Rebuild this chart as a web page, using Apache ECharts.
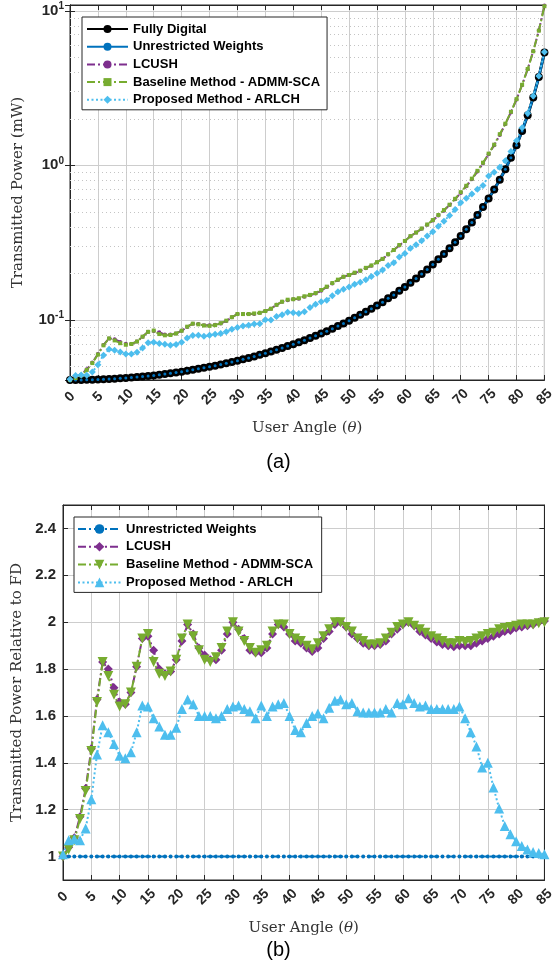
<!DOCTYPE html>
<html><head><meta charset="utf-8">
<script src="https://cdn.jsdelivr.net/npm/echarts@6/dist/echarts.min.js"></script>
<style>html,body{margin:0;padding:0;background:#fff}#c{width:557px;height:977px}</style>
</head><body><div id="c"></div><script>
const angles = [0,1,2,3,4,5,6,7,8,9,10,11,12,13,14,15,16,17,18,19,20,21,22,23,24,25,26,27,28,29,30,31,32,33,34,35,36,37,38,39,40,41,42,43,44,45,46,47,48,49,50,51,52,53,54,55,56,57,58,59,60,61,62,63,64,65,66,67,68,69,70,71,72,73,74,75,76,77,78,79,80,81,82,83,84,85];

// (a) transmitted power (mW)
const fdPower = [0.0408,0.0408,0.0408,0.0409,0.0410,0.0411,0.0412,0.0414,0.0416,0.0418,
0.0421,0.0423,0.0426,0.0430,0.0433,0.0437,0.0442,0.0446,0.0451,0.0456,
0.0462,0.0468,0.0475,0.0482,0.0489,0.0497,0.0505,0.0514,0.0523,0.0533,
0.0544,0.0555,0.0567,0.0580,0.0594,0.0608,0.0623,0.0640,0.0657,0.0676,
0.0695,0.0716,0.0739,0.0763,0.0789,0.0816,0.0845,0.0877,0.0911,0.0948,
0.0987,0.103,0.108,0.113,0.118,0.124,0.130,0.138,0.145,0.154,
0.163,0.174,0.185,0.198,0.212,0.228,0.247,0.267,0.291,0.318,
0.349,0.385,0.427,0.477,0.537,0.609,0.697,0.806,0.944,1.12,
1.35,1.67,2.11,2.75,3.73,5.37];
const uwPower = [0.0408,0.0408,0.0408,0.0409,0.0410,0.0411,0.0412,0.0414,0.0416,0.0418,
0.0421,0.0423,0.0426,0.0430,0.0433,0.0437,0.0442,0.0446,0.0451,0.0456,
0.0462,0.0468,0.0475,0.0482,0.0489,0.0497,0.0505,0.0514,0.0523,0.0533,
0.0544,0.0555,0.0567,0.0580,0.0594,0.0608,0.0623,0.0640,0.0657,0.0676,
0.0695,0.0716,0.0739,0.0763,0.0789,0.0816,0.0845,0.0877,0.0911,0.0948,
0.0987,0.103,0.108,0.113,0.118,0.124,0.130,0.138,0.145,0.154,
0.163,0.174,0.185,0.198,0.212,0.228,0.247,0.267,0.291,0.318,
0.349,0.385,0.427,0.477,0.537,0.609,0.697,0.806,0.944,1.12,
1.35,1.67,2.11,2.75,3.73,5.37];
const lcushPower = [0.0408,0.0424,0.0441,0.0479,0.0529,0.0600,0.0688,0.0758,0.0749,0.0719,
0.0699,0.0698,0.0724,0.0778,0.0836,0.0848,0.0831,0.0803,0.0803,0.0816,
0.0850,0.0899,0.0945,0.0940,0.0924,0.0924,0.0929,0.0946,0.0983,0.104,
0.109,0.109,0.109,0.109,0.111,0.114,0.118,0.125,0.131,0.134,
0.136,0.137,0.141,0.144,0.148,0.154,0.163,0.172,0.181,0.190,
0.195,0.201,0.208,0.216,0.224,0.236,0.248,0.265,0.283,0.303,
0.324,0.348,0.367,0.388,0.412,0.440,0.473,0.509,0.553,0.603,
0.663,0.732,0.811,0.911,1.03,1.18,1.35,1.57,1.85,2.20,
2.67,3.31,4.19,5.47,7.46,10.8];
const admmPower = [0.0408,0.0420,0.0437,0.0474,0.0525,0.0596,0.0684,0.0758,0.0736,0.0706,
0.0690,0.0698,0.0724,0.0778,0.0836,0.0852,0.0809,0.0794,0.0798,0.0816,
0.0850,0.0903,0.0945,0.0935,0.0919,0.0914,0.0924,0.0951,0.0988,0.104,
0.109,0.109,0.109,0.110,0.111,0.114,0.118,0.125,0.131,0.135,
0.136,0.138,0.142,0.145,0.149,0.156,0.164,0.173,0.182,0.190,
0.195,0.202,0.208,0.217,0.225,0.236,0.248,0.266,0.283,0.305,
0.324,0.348,0.367,0.390,0.414,0.442,0.477,0.513,0.556,0.607,
0.670,0.737,0.820,0.921,1.04,1.19,1.36,1.59,1.86,2.22,
2.68,3.32,4.20,5.47,7.44,10.7];
const arlchPower = [0.0412,0.0437,0.0439,0.0438,0.0459,0.0512,0.0591,0.0646,0.0636,0.0619,
0.0602,0.0601,0.0616,0.0658,0.0712,0.0717,0.0703,0.0694,0.0686,0.0693,
0.0716,0.0763,0.0793,0.0795,0.0782,0.0795,0.0808,0.0817,0.0837,0.0869,
0.0892,0.0913,0.0924,0.0940,0.0944,0.100,0.0997,0.105,0.108,0.112,
0.111,0.110,0.113,0.120,0.126,0.131,0.134,0.143,0.152,0.158,
0.163,0.170,0.175,0.182,0.191,0.200,0.210,0.225,0.234,0.255,
0.269,0.291,0.306,0.325,0.349,0.372,0.403,0.435,0.474,0.518,
0.572,0.612,0.653,0.701,0.741,0.853,0.903,0.971,1.07,1.23,
1.44,1.75,2.17,2.81,3.79,5.42];

// (b) transmitted power relative to FD
const uwRatio = [1,1,1,1,1,1,1,1,1,1,1,1,1,1,1,1,1,1,1,1,1,1,1,1,1,1,1,1,1,1,1,1,1,1,1,1,1,1,1,1,1,1,1,1,1,1,1,1,1,1,1,1,1,1,1,1,1,1,1,1,1,1,1,1,1,1,1,1,1,1,1,1,1,1,1,1,1,1,1,1,1,1,1,1,1,1];
const lcushRatio = [1.00,1.04,1.08,1.17,1.29,1.46,1.67,1.83,1.80,1.72,
1.66,1.65,1.70,1.81,1.93,1.94,1.88,1.80,1.78,1.79,
1.84,1.92,1.99,1.95,1.89,1.86,1.84,1.84,1.88,1.95,
2.00,1.97,1.93,1.88,1.87,1.87,1.89,1.95,1.99,1.98,
1.95,1.92,1.91,1.89,1.875,1.89,1.93,1.96,1.99,2.00,
1.98,1.95,1.93,1.91,1.90,1.90,1.905,1.92,1.95,1.97,
1.99,2.00,1.985,1.96,1.945,1.93,1.915,1.905,1.90,1.895,
1.90,1.90,1.90,1.91,1.92,1.93,1.94,1.95,1.96,1.965,
1.975,1.98,1.985,1.99,2.00,2.005];
const admmRatio = [1.00,1.03,1.07,1.16,1.28,1.45,1.66,1.83,1.77,1.69,
1.64,1.65,1.70,1.81,1.93,1.95,1.83,1.78,1.77,1.79,
1.84,1.93,1.99,1.94,1.88,1.84,1.83,1.85,1.89,1.96,
2.00,1.96,1.92,1.89,1.87,1.88,1.90,1.96,1.99,1.99,
1.95,1.93,1.92,1.90,1.885,1.91,1.94,1.97,2.00,2.00,
1.98,1.96,1.93,1.92,1.905,1.905,1.91,1.93,1.955,1.98,
1.99,2.00,1.985,1.97,1.955,1.94,1.93,1.92,1.91,1.91,
1.92,1.915,1.92,1.93,1.94,1.95,1.955,1.97,1.975,1.98,
1.985,1.99,1.99,1.99,1.995,2.00];
const arlchRatio = [1.01,1.07,1.075,1.07,1.12,1.245,1.435,1.56,1.53,1.48,
1.43,1.42,1.445,1.53,1.645,1.64,1.59,1.555,1.52,1.52,
1.55,1.63,1.67,1.65,1.60,1.60,1.60,1.59,1.60,1.63,
1.64,1.645,1.63,1.62,1.59,1.645,1.60,1.64,1.65,1.655,
1.60,1.54,1.53,1.57,1.60,1.61,1.59,1.635,1.665,1.67,
1.65,1.655,1.62,1.615,1.615,1.615,1.615,1.63,1.615,1.655,
1.65,1.675,1.655,1.64,1.645,1.63,1.63,1.63,1.63,1.63,
1.64,1.59,1.53,1.47,1.38,1.40,1.295,1.205,1.13,1.095,
1.065,1.045,1.03,1.02,1.015,1.01];

const topNames = ['Fully Digital','Unrestricted Weights','LCUSH','Baseline Method - ADMM-SCA','Proposed Method - ARLCH'];
const botNames = ['Unrestricted Weights ','LCUSH ','Baseline Method - ADMM-SCA ','Proposed Method - ARLCH '];
const minorGridTop = [0.05,0.06,0.07,0.08,0.09,0.2,0.3,0.4,0.5,0.6,0.7,0.8,0.9,2,3,4,5,6,7,8,9];

const C = {blue:'#0072BD', purple:'#7E2F8E', green:'#77AC30', light:'#4DBEEE', black:'#000000'};
const DASHDOT = [8,3,2,3];
const DOT = [2,2.5];
const SANS = 'Liberation Sans, Arial, Helvetica, sans-serif';
const SERIF = 'DejaVu Serif, serif';
const AX = '#262626';
const GRIDC = '#cdcdcd';

function pairs(vals){ return angles.map((a,i)=>[a, vals[i]]); }
function line(name, vals, xi, yi, color, width, type, symbol, size, extra){
  return Object.assign({
    name, type:'line', xAxisIndex:xi, yAxisIndex:yi, data:pairs(vals),
    showSymbol:true, showAllSymbol:true, symbol, symbolSize:size, animation:false, silent:true, z:3,
    lineStyle:{color, width, type},
    itemStyle:{color, borderColor:color, borderWidth:0}
  }, extra||{});
}

function xAx(gi, bottom){
  const base = {type:'value', gridIndex:gi, min:0, max:85, interval:5,
    axisLine:{show:true, onZero:false, lineStyle:{color:AX, width:1}},
    axisTick:{show:true, inside:true, length:5, lineStyle:{color:AX}}};
  if (bottom) return Object.assign(base, {position:'bottom',
    axisLabel:{show:true, rotate:45, align:'center', verticalAlign:'middle', margin:17, fontFamily:SANS, fontWeight:'bold', fontSize:14, color:'#262626'},
    splitLine:{show:true, lineStyle:{color:GRIDC, width:1}},
    name:'User Angle ({i|θ})', nameLocation:'middle', nameGap:41,
    nameTextStyle:{fontFamily:SERIF, fontSize:15, color:'#333', rich:{i:{fontFamily:SERIF, fontSize:15, fontStyle:'italic', color:'#333'}}}});
  return Object.assign(base, {position:'top', axisLabel:{show:false}, splitLine:{show:false}});
}

const option = {
  backgroundColor:'#ffffff',
  animation:false,
  grid:[
    {left:70, top:5, width:475, height:375, show:true, borderColor:AX, borderWidth:1, backgroundColor:'#fff'},
    {left:63, top:505, width:482, height:375, show:true, borderColor:AX, borderWidth:1, backgroundColor:'#fff'}
  ],
  xAxis:[ xAx(0,true), xAx(0,false), xAx(1,true), xAx(1,false) ],
  yAxis:[
    {type:'log', logBase:10, gridIndex:0, min:0.0408, max:10.9, position:'left',
     axisLine:{show:true, lineStyle:{color:AX}},
     axisTick:{show:true, inside:true, length:5, lineStyle:{color:AX}},
     splitLine:{show:true, lineStyle:{color:GRIDC, width:1}},
     axisLabel:{show:true, showMinLabel:false, showMaxLabel:false, margin:6, color:'#262626',
       formatter:function(v){ const l=Math.log10(v); const e=Math.round(l); if(Math.abs(l-e)>1e-6) return ''; return '{b|10}{s|'+e+'}'; },
       rich:{b:{fontFamily:SANS, fontWeight:'bold', fontSize:15, color:'#262626'},
             s:{fontFamily:SANS, fontWeight:'bold', fontSize:10, color:'#262626', padding:[0,0,9,0]}}},
     name:'Transmitted Power (mW)', nameLocation:'middle', nameGap:44,
     nameTextStyle:{fontFamily:SERIF, fontSize:15, color:'#333'}},
    {type:'log', logBase:10, gridIndex:0, min:0.0408, max:10.9, position:'right',
     axisLine:{show:true, lineStyle:{color:AX}}, axisTick:{show:true, inside:true, length:5, lineStyle:{color:AX}},
     splitLine:{show:false}, axisLabel:{show:false}},
    {type:'value', gridIndex:1, min:0.9, max:2.5, splitNumber:8, position:'left',
     axisLine:{show:true, onZero:false, lineStyle:{color:AX}},
     axisTick:{show:true, inside:true, length:5, lineStyle:{color:AX}},
     splitLine:{show:true, lineStyle:{color:GRIDC, width:1}},
     axisLabel:{show:true, showMinLabel:false, showMaxLabel:false, margin:7, fontFamily:SANS, fontWeight:'bold', fontSize:15, color:'#262626'},
     name:'Transmitted Power Relative to FD', nameLocation:'middle', nameGap:37,
     nameTextStyle:{fontFamily:SERIF, fontSize:15, color:'#333'}},
    {type:'value', gridIndex:1, min:0.9, max:2.5, splitNumber:8, position:'right',
     axisLine:{show:true, onZero:false, lineStyle:{color:AX}}, axisTick:{show:true, inside:true, length:5, lineStyle:{color:AX}},
     splitLine:{show:false}, axisLabel:{show:false}}
  ],
  legend:[
    {data:topNames, orient:'vertical', left:82, top:17, selectedMode:false,
     backgroundColor:'#fff', borderColor:'#262626', borderWidth:1, padding:[5,7,3,4],
     itemWidth:41, itemHeight:10, itemGap:3.7, symbolRotate:'inherit',
     textStyle:{fontFamily:SANS, fontWeight:'bold', fontSize:13, lineHeight:14, color:'#000'}},
    {data:botNames, orient:'vertical', left:74, top:517, selectedMode:false,
     backgroundColor:'#fff', borderColor:'#262626', borderWidth:1, padding:[5,5,3,3],
     itemWidth:43, itemHeight:12, itemGap:3.8, symbolRotate:'inherit',
     textStyle:{fontFamily:SANS, fontWeight:'bold', fontSize:13, lineHeight:14, color:'#000'}}
  ],
  graphic:[
    {type:'text', left:'center', top:452, style:{text:'(a)', font:'20px '+SANS, fill:'#000'}},
    {type:'text', left:'center', top:940, style:{text:'(b)', font:'20px '+SANS, fill:'#000'}}
  ],
  series:[
    {name:'__minor', type:'line', xAxisIndex:0, yAxisIndex:0, data:[], silent:true, z:1,
     markLine:{silent:true, z:1, symbol:['none','none'], label:{show:false}, animation:false,
       lineStyle:{color:'#c4c4c4', type:[1,3], width:1},
       data:minorGridTop.map(v=>({yAxis:v}))}},
    line(topNames[0], fdPower, 0, 0, C.black, 3, 'solid', 'circle', 8),
    line(topNames[1], uwPower, 0, 0, C.blue, 2.5, 'solid', 'circle', 3),
    line(topNames[2], lcushPower, 0, 0, C.purple, 2, DASHDOT, 'circle', 4),
    line(topNames[3], admmPower, 0, 0, C.green, 2, DASHDOT, 'rect', 4),
    line(topNames[4], arlchPower, 0, 0, C.light, 2, DOT, 'diamond', 7),
    line(botNames[0], uwRatio, 2, 2, C.blue, 2, DASHDOT, 'circle', 4),
    line(botNames[1], lcushRatio, 2, 2, C.purple, 2, DASHDOT, 'diamond', 9),
    line(botNames[2], admmRatio, 2, 2, C.green, 2, DASHDOT, 'triangle', 10, {symbolRotate:180}),
    line(botNames[3], arlchRatio, 2, 2, C.light, 2, DOT, 'triangle', 10)
  ]
};
const chart = echarts.init(document.getElementById('c'), null, {renderer:'canvas'});
chart.setOption(option);
</script></body></html>
